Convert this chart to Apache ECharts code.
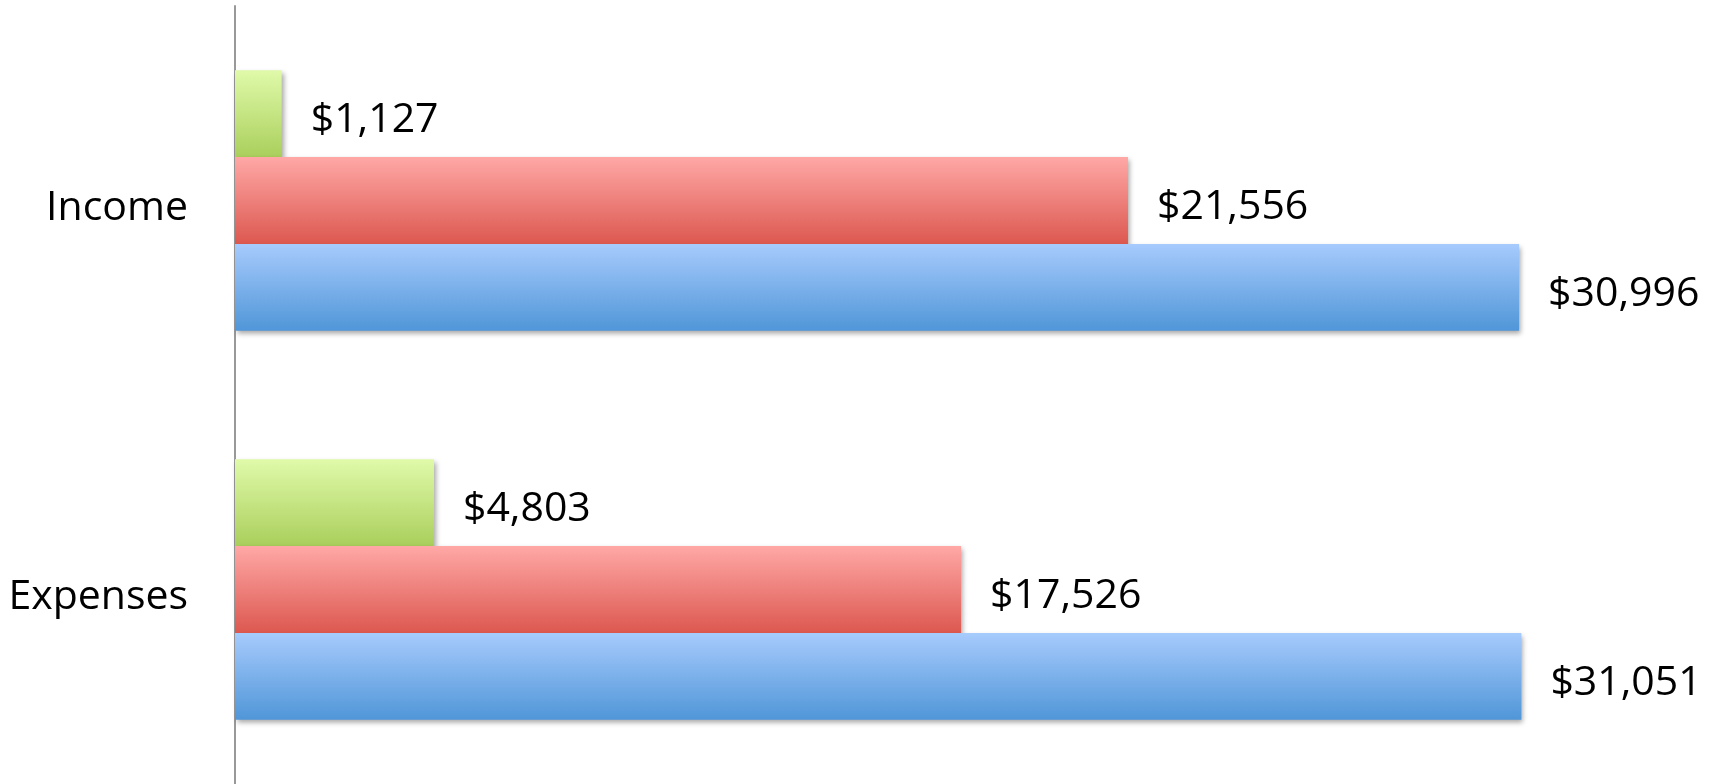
<!DOCTYPE html>
<html>
<head>
<meta charset="utf-8">
<script src="https://cdn.jsdelivr.net/npm/echarts@6/dist/echarts.min.js"></script>
<style>
html,body{margin:0;padding:0;background:#fff;}
#chart{width:1727px;height:784px;}
</style>
</head>
<body>
<div id="chart"></div>
<script>
var categories = ['Income', 'Expenses'];
var seriesGreen = [1127, 4803];
var seriesRed = [21556, 17526];
var seriesBlue = [30996, 31051];

function grad(top, bottom) {
  return new echarts.graphic.LinearGradient(0, 0, 0, 1, [
    {offset: 0, color: top},
    {offset: 1, color: bottom}
  ]);
}
function fmt(p) {
  return '$' + p.value.toLocaleString('en-US');
}
var labelStyle = {
  show: true,
  position: 'right',
  distance: 29,
  formatter: fmt,
  color: '#000',
  fontFamily: 'Open Sans',
  fontSize: 41,
  offset: [0, 7]
};
function mk(data, top, bottom) {
  return {
    type: 'bar',
    data: data,
    barGap: '0%',
    barCategoryGap: '33%',
    itemStyle: {
      color: grad(top, bottom),
      shadowColor: 'rgba(0,0,0,0.35)',
      shadowBlur: 5,
      shadowOffsetX: 2,
      shadowOffsetY: 3
    },
    label: labelStyle,
    silent: true
  };
}
var chart = echarts.init(document.getElementById('chart'), null, {renderer: 'canvas'});
chart.setOption({
  animation: false,
  backgroundColor: '#fff',
  grid: {left: 235, width: 1450, top: 6, height: 782, containLabel: false},
  xAxis: {
    type: 'value', min: 0, max: 35000,
    show: false,
    splitLine: {show: false}
  },
  yAxis: {
    type: 'category',
    data: categories,
    inverse: true,
    axisLine: {show: true, lineStyle: {color: '#999', width: 2}},
    axisTick: {show: false},
    axisLabel: {
      color: '#000',
      fontFamily: 'Open Sans',
      fontSize: 41,
      margin: 47,
      verticalAlign: 'top',
      lineHeight: 16
    }
  },
  series: [
    mk(seriesGreen, '#E0FAAA', '#AACF5C'),
    mk(seriesRed, '#FFA8A6', '#DC5850'),
    mk(seriesBlue, '#A7CBFD', '#5096D8')
  ]
});
</script>
</body>
</html>
